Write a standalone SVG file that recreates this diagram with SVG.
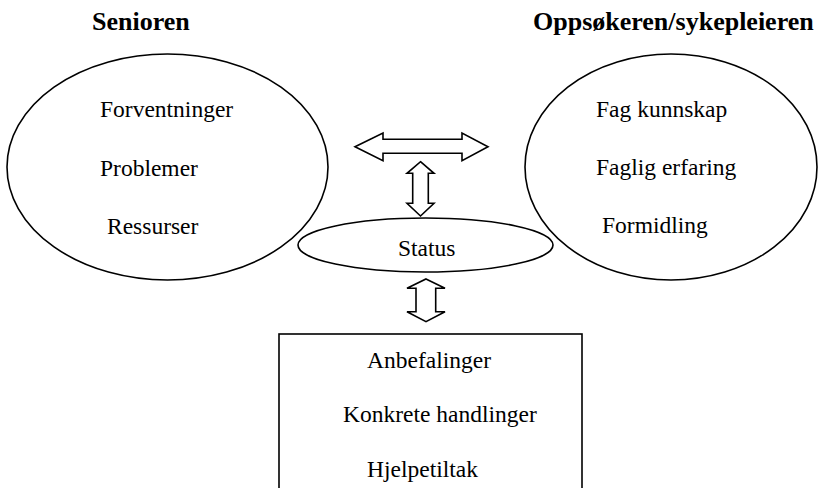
<svg xmlns="http://www.w3.org/2000/svg" width="825" height="488" viewBox="0 0 825 488">
<style>
.shape{fill:#fff;stroke:#000;stroke-width:1.6}
.arrow{fill:#fff;stroke:#000;stroke-width:1.6;stroke-linejoin:miter}
.t{font-family:"Liberation Serif","Times New Roman",serif;font-size:23.5px;fill:#000}
.h{font-family:"Liberation Serif","Times New Roman",serif;font-size:26px;font-weight:bold;fill:#000}
</style>
<rect width="825" height="488" fill="#fff"/>
<g id="title-senioren"><text class="h" x="92" y="30">Senioren</text></g>
<g id="title-oppsokeren"><text class="h" x="533" y="30">Oppsøkeren/sykepleieren</text></g>
<g id="senioren">
<ellipse class="shape" cx="167.5" cy="167" rx="160.5" ry="113"/>
<text class="t" x="100" y="117">Forventninger</text>
<text class="t" x="100" y="176">Problemer</text>
<text class="t" x="107" y="234">Ressurser</text>
</g>
<g id="oppsokeren">
<ellipse class="shape" cx="671" cy="167" rx="146" ry="113"/>
<text class="t" x="596" y="117">Fag kunnskap</text>
<text class="t" x="596" y="175">Faglig erfaring</text>
<text class="t" x="602" y="233">Formidling</text>
</g>
<g id="status">
<ellipse class="shape" cx="425.5" cy="245" rx="127.5" ry="27"/>
<text class="t" x="398" y="256">Status</text>
</g>
<g id="tiltak">
<rect class="shape" x="279" y="334" width="303" height="170"/>
<text class="t" x="367" y="368">Anbefalinger</text>
<text class="t" x="343" y="422">Konkrete handlinger</text>
<text class="t" x="367" y="477">Hjelpetiltak</text>
</g>
<g id="connectors">
<polygon class="arrow" points="355,146.7 383,133 383,139.3 462,139.3 462,133 488,146.7 462,160.7 462,153.3 383,153.3 383,160.7"/>
<polygon class="arrow" points="420.5,161.7 434,173.3 428.3,173.3 428.3,203.3 434,203.3 420.5,216 407,203.3 412.7,203.3 412.7,173.3 407,173.3"/>
<polygon class="arrow" points="426,279 445,288.3 435.7,288.3 435.7,311.7 445,311.7 426,321.7 407,311.7 416,311.7 416,288.3 407,288.3"/>
</g>
</svg>
